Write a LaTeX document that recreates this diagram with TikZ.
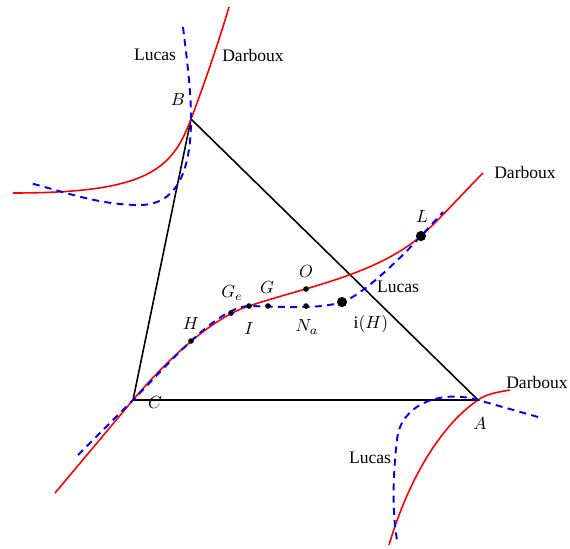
\documentclass[tikz,border=0pt]{standalone}
\usepackage{fontspec}
\setmainfont{Liberation Serif}
\usetikzlibrary{positioning}

\begin{document}
\begin{tikzpicture}[
  x=0.2mm, y=-0.2mm,
  side/.style={black, line width=0.9pt},
  darboux/.style={red, line width=0.9pt},
  lucas/.style={blue, dash pattern=on 4pt off 3pt, line width=1.1pt},
  dot/.style={circle, fill=black, inner sep=0pt, minimum size=3.2pt},
  bigdot/.style={circle, fill=black, inner sep=0pt, minimum size=5.8pt},
  lbl/.style={inner sep=1pt}
]
\useasboundingbox (0,0) rectangle (570,548);

% vertices and points on the curves
\coordinate (A) at (478,400);
\coordinate (B) at (191,119);
\coordinate (C) at (133,400);
\coordinate (pI) at (249,306);
\coordinate (piH) at (342,302);
\coordinate (pL) at (421,236);

\draw[side] (A) -- (B) -- (C) -- cycle;

% Darboux cubic (red)
\draw[darboux] (13,193) .. controls (147,193) and (172,170) .. (B)
  .. controls (205,82) and (218,44) .. (229,7);
\draw[darboux] (55,493) -- (C) .. controls (165,362) and (211,318) .. (pI)
  .. controls (306,287) and (375,275) .. (pL)
  .. controls (436,223) and (468,188) .. (483,173);
\draw[darboux] (510,390) .. controls (498,392) and (486,394) .. (A)
  .. controls (437,428) and (406,487) .. (389,545);

% Lucas cubic (blue)
\draw[lucas] (183,27) .. controls (187,60) and (191,90) .. (B)
  .. controls (191,174) and (175,205) .. (140,205)
  .. controls (100,205) and (68,193) .. (30,183);
\draw[lucas] (78,455) -- (C) .. controls (165,368) and (216,307) .. (pI)
  .. controls (290,307) and (320,309) .. (piH)
  .. controls (361,296) and (397,262) .. (pL) -- (443,212);
\draw[lucas] (538,417) -- (A) .. controls (440,389) and (400,405) .. (397,440)
  .. controls (393,472) and (392,512) .. (397,540);

% centres
\node[dot] (H) at (191,341) {};
\node[dot] (Ge) at (231,313) {};
\node[dot] (I) at (pI) {};
\node[dot] (G) at (268,306) {};
\node[dot] (O) at (306,289) {};
\node[dot] (Na) at (306,306) {};
\node[bigdot] (iH) at (piH) {};
\node[bigdot] (L) at (pL) {};

% labels
\node[lbl] (labA) at (480,423) {$A$};
\node[lbl] (labB) at (178,99) {$B$};
\node[lbl] (labC) at (155,402) {$C$};
\node[lbl] (labH) at (191,323) {$H$};
\node[lbl] (labGe) at (232,293) {$G_e$};
\node[lbl] (labG) at (267,287) {$G$};
\node[lbl] (labO) at (306,271) {$O$};
\node[lbl] (labI) at (249,328) {$I$};
\node[lbl] (labNa) at (307,327) {$N_a$};
\node[lbl] (labiH) at (371,324) {$\mathrm{i}(H)$};
\node[lbl] (labL) at (422,216) {$L$};

\node[lbl] (lucasB) at (155,55) {Lucas};
\node[lbl] (darbB) at (253,55) {Darboux};
\node[lbl] (lucasL) at (398,287) {Lucas};
\node[lbl] (darbL) at (525,172) {Darboux};
\node[lbl] (darbA) at (537,382) {Darboux};
\node[lbl] (lucasA) at (370,458) {Lucas};
\end{tikzpicture}
\end{document}
